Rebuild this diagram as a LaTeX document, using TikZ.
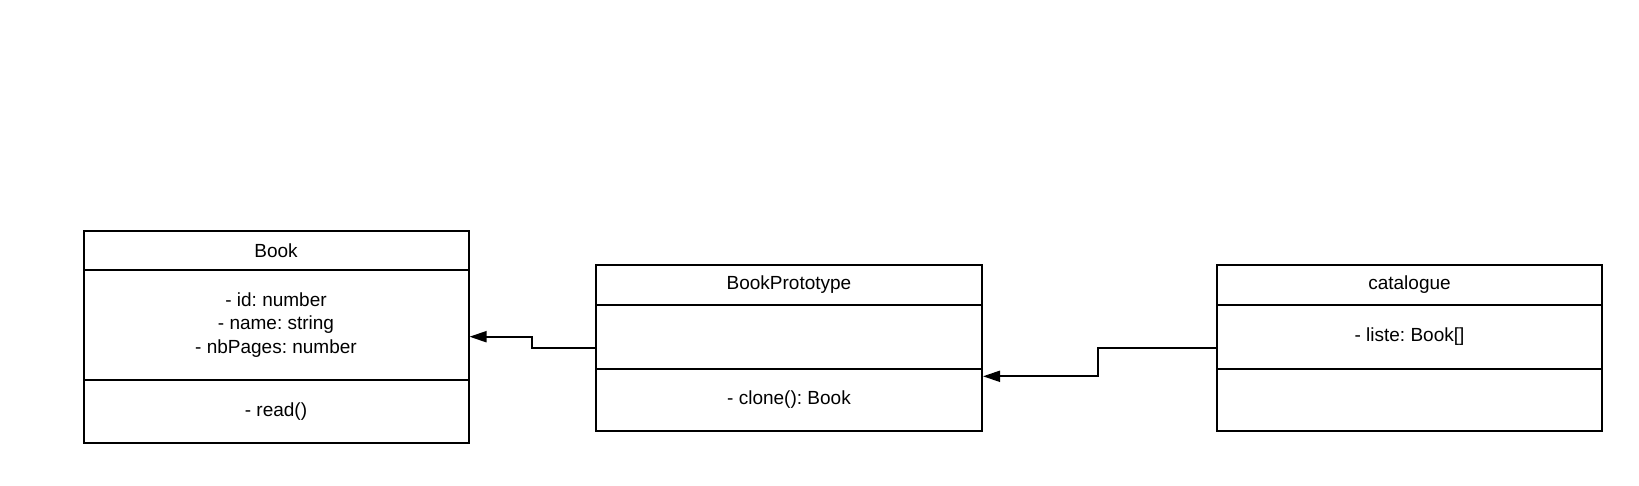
\documentclass[tikz,border=0pt]{standalone}
\usepackage{fontspec}
\setmainfont{Liberation Sans}
\usetikzlibrary{arrows.meta}
\frenchspacing
\begin{document}
\begin{tikzpicture}[x=1pt,y=-1pt,
  cls/.style={draw, line width=2pt, inner sep=0pt, align=center,
    font=\fontsize{19}{23.5}\selectfont\frenchspacing},
  arr/.style={line width=2pt, -{Triangle[length=17pt,width=11pt]}}]
\useasboundingbox (0,0) rectangle (1639,486);
% Book
\node[cls, minimum width=385pt, minimum height=39pt] (booktitle) at (276,250.5) {Book};
\node[cls, minimum width=385pt, minimum height=110pt] (bookattr) at (276,325) {- id: number\\- name: string\\- nbPages: number};
\node[cls, minimum width=385pt, minimum height=63pt] (bookmeth) at (276,411.5) {- read()};
% BookPrototype
\node[cls, minimum width=386pt, minimum height=40pt] (bptitle) at (789,285) {BookPrototype};
\node[cls, minimum width=386pt, minimum height=64pt] (bpattr) at (789,337) {};
\node[cls, minimum width=386pt, minimum height=62pt] (bpmeth) at (789,400) {- clone(): Book};
% catalogue
\node[cls, minimum width=385pt, minimum height=40pt] (cattitle) at (1409.5,285) {catalogue};
\node[cls, minimum width=385pt, minimum height=64pt] (catattr) at (1409.5,337) {- liste: Book[]};
\node[cls, minimum width=385pt, minimum height=62pt] (catmeth) at (1409.5,400) {};
% connectors
\draw[arr] ([yshift=-11.5pt]bpattr.west) -- ++(-63.5,0) |- ([yshift=-11.7pt]bookattr.east);
\draw[arr] ([yshift=-11.5pt]catattr.west) -- ++(-118.5,0) |- ([yshift=23.7pt]bpmeth.east);
\end{tikzpicture}
\end{document}
